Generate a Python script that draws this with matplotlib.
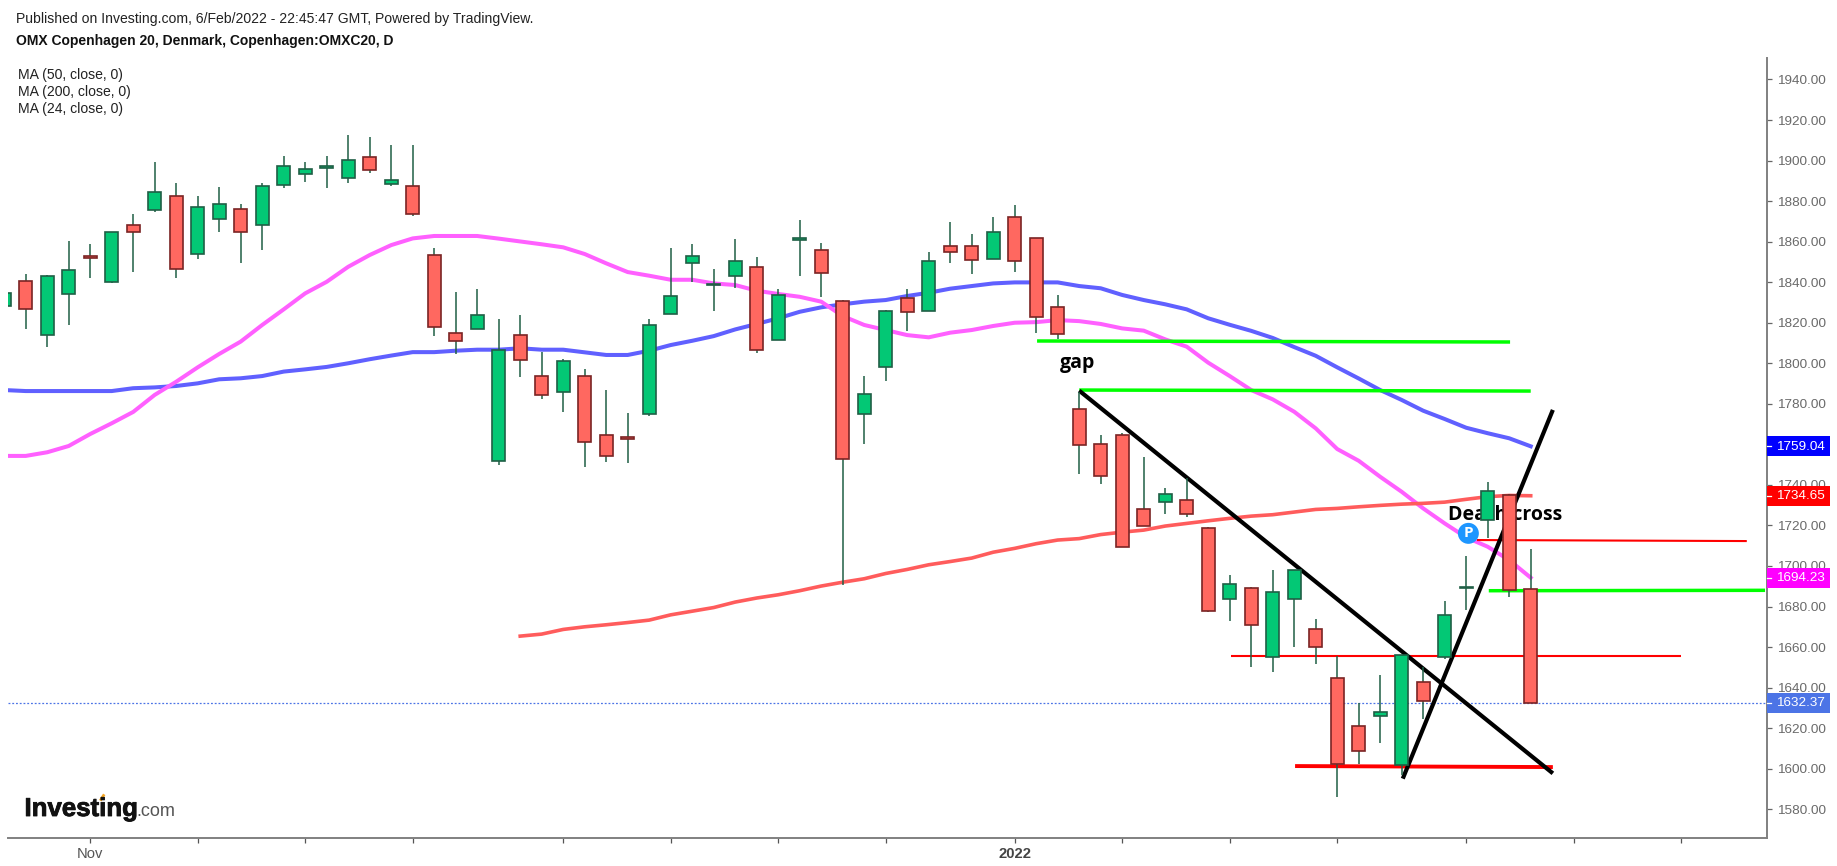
# OMX Copenhagen 20 daily candles with moving averages and hand drawn lines
import matplotlib
matplotlib.use('Agg')
import matplotlib.pyplot as plt
import matplotlib.patheffects as pe
from matplotlib.patches import Rectangle
from matplotlib.transforms import blended_transform_factory
import numpy as np

W, H = 1837, 866

# candle data, one entry per day
opens = [1828.4, 1840.6, 1814, 1834.2, 1852.9, 1839.9, 1868.4, 1875.6, 1882.5, 1854.1, 1871.3, 1876.3,
         1868.2, 1887.9, 1893.5, 1896.5, 1891.5, 1901.7, 1888.6, 1887.4, 1853.6, 1814.8, 1817.1, 1751.6,
         1814.1, 1793.7, 1785.7, 1793.7, 1764.8, 1763.5, 1775.1, 1824.5, 1849.6, 1838.7, 1843, 1847.5,
         1811.5, 1861, 1856, 1830.7, 1775.1, 1798, 1832, 1825.8, 1857.8, 1857.8, 1851.6, 1872,
         1861.6, 1827.6, 1777.6, 1760.3, 1764.8, 1728.2, 1731.4, 1732.7, 1718.5, 1683.9, 1688.9, 1654.9,
         1683.9, 1669, 1644.6, 1621, 1625.8, 1601.8, 1642.6, 1654.9, 1689, 1722.8, 1735.2, 1688.8]
closes = [1834.9, 1827, 1843, 1846.2, 1852, 1864.7, 1864.6, 1884.3, 1846.7, 1876.9, 1878.7, 1864.6,
          1887.4, 1897.3, 1896, 1897.1, 1900.4, 1895.3, 1890.5, 1873.8, 1817.7, 1810.8, 1824, 1806.7,
          1801.6, 1784.4, 1801.1, 1761, 1754.3, 1762.7, 1819, 1833.2, 1853.1, 1839.3, 1850.4, 1806.5,
          1833.8, 1862, 1844.7, 1753, 1785, 1825.8, 1825.1, 1850.4, 1854.7, 1850.9, 1864.6, 1850.3,
          1822.6, 1814.6, 1759.8, 1744.2, 1709.2, 1719.5, 1735.7, 1725.6, 1677.6, 1691.2, 1670.9, 1687,
          1698.1, 1659.9, 1602.5, 1608.6, 1628, 1656.3, 1633.2, 1675.8, 1689.6, 1736.8, 1688.3, 1632.37]
highs = [1837, 1844, 1843.4, 1860.5, 1858.8, 1864.9, 1873.5, 1899.4, 1888.9, 1882.7, 1887.1, 1878.4,
         1888.9, 1902.1, 1899.4, 1902.1, 1912.4, 1911.8, 1907.5, 1907.5, 1856.9, 1835.3, 1836.5, 1821.7,
         1823.7, 1805.7, 1802, 1797, 1786.7, 1775.3, 1821.7, 1856.9, 1858.7, 1846.5, 1861.3, 1852.6,
         1836.5, 1870.7, 1859.3, 1831, 1793.5, 1826.1, 1836.5, 1855, 1869.8, 1863.6, 1872.3, 1877.9,
         1861.6, 1833.5, 1786, 1764.4, 1765.5, 1753.9, 1738.3, 1743.2, 1719.4, 1695.4, 1689.8, 1697.8,
         1698.1, 1673.7, 1655.8, 1632.6, 1646.2, 1656.3, 1650.3, 1682.9, 1705.1, 1741.5, 1735.5, 1708.2]
lows = [1825, 1816.8, 1808.2, 1818.7, 1842.2, 1839.7, 1845.2, 1874.8, 1842.2, 1851.4, 1864.9, 1849.6,
        1855.7, 1886.6, 1889.5, 1886.6, 1889.1, 1894, 1887.6, 1872.8, 1813.6, 1804.6, 1817.1, 1749.7,
        1793.4, 1782.4, 1776.1, 1749, 1751.5, 1751, 1774.1, 1824.5, 1840.2, 1825.9, 1837.3, 1805.2,
        1811.5, 1843.2, 1832.8, 1690.5, 1760.1, 1791.4, 1816.1, 1825.8, 1849.6, 1843.9, 1851.6, 1845.2,
        1815.1, 1811.8, 1745.2, 1740.3, 1709.2, 1719.5, 1725.5, 1724.3, 1677.5, 1673, 1650.3, 1647.8,
        1660.2, 1651.6, 1586.2, 1602.3, 1612.9, 1596.9, 1624.5, 1653.9, 1678.3, 1713.9, 1684.8, 1632.37]

# moving averages
ma_24 = [1754.3, 1754.3, 1756.1, 1759.2, 1765.1, 1770.4, 1776, 1784.4, 1790.9, 1798, 1804.6, 1810.7,
         1818.9, 1826.6, 1834.5, 1840.2, 1847.6, 1853.4, 1858.3, 1861.6, 1862.8, 1862.8, 1862.8, 1861.5,
         1860.1, 1858.7, 1857.2, 1853.9, 1849.3, 1845, 1843.2, 1841.2, 1841.2, 1839.4, 1838.6, 1835.8,
         1834.2, 1832.8, 1830.4, 1823.3, 1818.9, 1816.4, 1813.9, 1812.8, 1815.1, 1816.4, 1818.4, 1820,
         1820.3, 1821.3, 1820.8, 1819.4, 1817.2, 1816.1, 1811.8, 1808.2, 1800.3, 1793.7, 1786.8, 1782.2,
         1776.1, 1767.9, 1757.7, 1751.9, 1744, 1736.6, 1728.4, 1721, 1714.1, 1709.5, 1702.9, 1694.23]
ma_50 = [1786.8, 1786.3, 1786.3, 1786.3, 1786.3, 1786.3, 1787.7, 1788.1, 1788.8, 1790.1, 1792.1, 1792.6,
         1793.7, 1795.9, 1797, 1798.2, 1800, 1802, 1803.8, 1805.5, 1805.5, 1806.2, 1806.7, 1806.7,
         1807.4, 1806.7, 1806.7, 1805.4, 1804.1, 1804.1, 1806.2, 1809, 1811.1, 1813.4, 1816.7, 1819.4,
         1822.2, 1825.4, 1827.6, 1829.1, 1830.4, 1831.2, 1833.2, 1834.8, 1836.8, 1838.1, 1839.4, 1839.9,
         1839.9, 1839.9, 1838.1, 1837, 1833.7, 1831.2, 1829.1, 1826.6, 1822.2, 1819, 1816, 1812.5,
         1808, 1803.7, 1798, 1792.5, 1786.8, 1781.9, 1776.6, 1772.5, 1768.2, 1765.5, 1763, 1759.04]
ma_200_start = 24
ma_200 = [1665.4, 1666.4, 1668.7, 1670, 1671, 1672.1, 1673.3, 1675.9, 1677.7, 1679.5, 1682.2, 1684.2,
          1685.8, 1687.8, 1690.1, 1692, 1693.7, 1696.3, 1698.3, 1700.6, 1702.2, 1703.9, 1706.8, 1708.7,
          1711, 1712.8, 1713.5, 1715.5, 1716.7, 1717.7, 1719.7, 1721, 1722.3, 1723.5, 1724.6, 1725.3,
          1726.6, 1727.9, 1728.4, 1729.2, 1729.9, 1730.5, 1730.9, 1731.5, 1732.9, 1734.2, 1734.8, 1734.65]

# hand drawn lines: (x0, price0, x1, price1), x in bars
green_lines = [(48.04, 1811, 70.04, 1810.5), (50, 1786.8, 71, 1786.3), (69.05, 1687.8, 81.9, 1688)]
thin_red_lines = [(57.05, 1655.6, 78, 1655.6), (68.5, 1712.8, 81.05, 1712.3)]
thick_red_line = (60.04, 1601.3, 72.03, 1600.8)
black_lines = [(50, 1786.5, 72.03, 1597.7), (65.05, 1595.1, 72.03, 1777)]

y_ticks = list(range(1580, 1960, 20))
x_ticks = [4, 9, 14, 19, 26, 31, 36, 41, 47, 52, 57, 62, 68, 73, 78]
x_tick_labels = {4: 'Nov', 47: '2022'}
value_tags = [(1759.04, '#0000ff'), (1734.65, '#ff0000'), (1694.23, '#ff00ff'), (1632.37, '#4c74e6')]

GREEN = '#03c875'
RED = '#ff6860'
GREEN_DARK = '#1f5f45'
RED_DARK = '#7a2424'

plt.rcParams['font.family'] = ['Liberation Sans', 'DejaVu Sans']

fig = plt.figure(figsize=(W / 100, H / 100), dpi=100)
ax = fig.add_axes([8 / W, 1 - 837.7 / H, 1759 / W, (837.7 - 58) / H])
ax.set_xlim(0.1767, 81.99)
ax.set_ylim(1565.96, 1950.6)

x = np.arange(len(opens))

# moving averages go under the candles
ax.plot(x, ma_50, color='#6060ff', lw=2.9, zorder=2)
ax.plot(x, ma_24, color='#ff60ff', lw=2.9, zorder=2)
ax.plot(x[ma_200_start:], ma_200, color='#ff5c5c', lw=2.6, zorder=2)

for ln in green_lines:
    ax.plot([ln[0], ln[2]], [ln[1], ln[3]], color='#00ff00', lw=2.5, zorder=2.2, solid_capstyle='butt')
for ln in thin_red_lines:
    ax.plot([ln[0], ln[2]], [ln[1], ln[3]], color='#ff0000', lw=1.5, zorder=2.2, solid_capstyle='butt')
ax.plot([thick_red_line[0], thick_red_line[2]], [thick_red_line[1], thick_red_line[3]],
        color='#ff0000', lw=2.8, zorder=2.2, solid_capstyle='butt')
for ln in black_lines:
    ax.plot([ln[0], ln[2]], [ln[1], ln[3]], color='black', lw=3, zorder=2.3, solid_capstyle='butt')

ax.axhline(closes[-1], color='#4c74e6', lw=0.9, ls=(0, (1.5, 1.5)), zorder=2.1)

ax.text(49.1, 1800.3, 'gap', fontsize=14, fontweight='bold', family=['Open Sans', 'DejaVu Sans'],
        ha='left', va='center', color='black', zorder=2.4)
ax.text(67.15, 1725.2, 'Death cross', fontsize=14, fontweight='bold', family=['Open Sans', 'DejaVu Sans'],
        ha='left', va='center', color='black', zorder=2.4)

# candles
for i in x:
    up = closes[i] >= opens[i]
    edge = GREEN_DARK if up else RED_DARK
    ax.vlines(i, lows[i], highs[i], color=GREEN_DARK, lw=1.1, zorder=3)
    ax.bar(i, abs(closes[i] - opens[i]), bottom=min(opens[i], closes[i]), width=0.59,
           color=GREEN if up else RED, edgecolor=edge, linewidth=1.2, zorder=3.1)

# publication marker
ax.scatter([68.1], [1716.1], s=228, color='#1e96ff', edgecolor='none', zorder=4)
ax.text(68.1, 1716.3, 'P', color='white', fontsize=11, fontweight='bold', family=['Open Sans', 'DejaVu Sans'],
        ha='center', va='center', zorder=4.1)

# axes
for s in ['top', 'left']:
    ax.spines[s].set_visible(False)
for s in ['right', 'bottom']:
    ax.spines[s].set_color('#808080')
    ax.spines[s].set_linewidth(1.4)
ax.yaxis.tick_right()
ax.set_yticks(y_ticks)
ax.set_yticklabels(['%.2f' % v for v in y_ticks])
ax.set_xticks(x_ticks)
ax.set_xticklabels([x_tick_labels.get(t, '') for t in x_ticks])
ax.tick_params(axis='y', length=3.5, width=0.9, color='#666666', labelcolor='#6a6a6a', labelsize=9.7, pad=3.5)
ax.tick_params(axis='x', length=3.5, width=0.9, color='#555555', labelcolor='#555555', labelsize=10.6, pad=3)
for lab in ax.get_xticklabels():
    if lab.get_text() == '2022':
        lab.set_fontweight('bold')
        lab.set_color('#444444')

# price tags on the right axis
tr = blended_transform_factory(ax.transAxes, ax.transData)
for val, col in value_tags:
    ax.add_patch(Rectangle((1.0, val - 4.93), 63 / 1759, 9.86, transform=tr, facecolor=col,
                           edgecolor='none', clip_on=False, zorder=6))
    ax.plot([1.0, 1.0 + 4 / 1759], [val, val], transform=tr, color='white', lw=0.9, clip_on=False, zorder=7)
    ax.text(1.0 + 8.7 / 1759, val - 0.2, '%.2f' % val, transform=tr, color='white', fontsize=9.7,
            ha='left', va='center', zorder=7)


def put(px, py, s, **kw):
    return fig.text(px / W, 1 - py / H, s, va='center', ha='left', **kw)


put(16, 18.8, 'Published on Investing.com, 6/Feb/2022 - 22:45:47 GMT, Powered by TradingView.', fontsize=10.07, color='#222222')
put(15.5, 40.7, 'OMX Copenhagen 20, Denmark, Copenhagen:OMXC20, D', fontsize=10, fontweight='bold', color='#111111')
put(18, 75, 'MA (50, close, 0)', fontsize=10.1, color='#222222')
put(18, 91.7, 'MA (200, close, 0)', fontsize=10.1, color='#222222')
put(18, 108.7, 'MA (24, close, 0)', fontsize=10.1, color='#222222')

# logo
logo = put(24.5, 809, 'Investing', fontsize=18.6, fontweight='bold', color='#111111')
logo.set_path_effects([pe.withStroke(linewidth=0.6, foreground='#111111')])
put(136, 811, '.com', fontsize=13, color='#555555')
fig.add_artist(plt.Line2D([101 / W, 103.5 / W], [1 - 799.5 / H, 1 - 795.5 / H], color='#f5a623', lw=2,
                          transform=fig.transFigure))

fig.savefig('out.png', dpi=100)
